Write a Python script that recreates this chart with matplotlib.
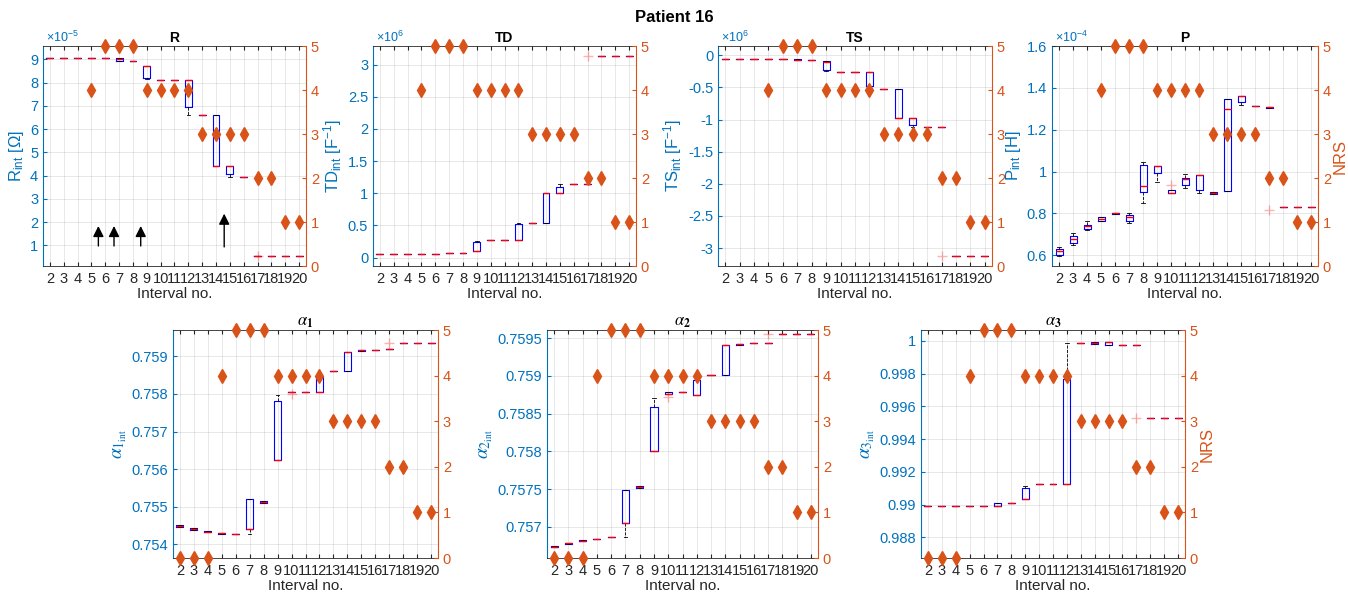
import matplotlib
matplotlib.use('Agg')
import matplotlib.pyplot as plt
from matplotlib.ticker import FuncFormatter

plt.rcParams['font.family'] = ['Liberation Sans', 'DejaVu Sans']
plt.rcParams['mathtext.fontset'] = 'custom'
plt.rcParams['mathtext.rm'] = 'Liberation Sans'
plt.rcParams['mathtext.it'] = 'Liberation Sans:italic'
plt.rcParams['mathtext.bf'] = 'Liberation Sans:bold'

# ---------------- data ----------------
intervals = list(range(2, 21))
nrs = [0, 0, 0, 4, 5, 5, 5, 4, 4, 4, 4, 3, 3, 3, 3, 2, 2, 1, 1]

# R (x1e-5 Ohm)
R_med = [9.07, 9.07, 9.07, 9.07, 9.07, 9.00, 8.93, 8.71, 8.10, 8.10, 8.10, 6.59, 4.41, 4.41, 3.94, 0.54, 0.54, 0.54, 0.54]
R_q1  = [9.07, 9.07, 9.07, 9.07, 9.07, 8.93, 8.93, 8.18, 8.10, 8.10, 6.95, 6.59, 4.41, 4.05, 3.94, 0.54, 0.54, 0.54, 0.54]
R_q3  = [9.07, 9.07, 9.07, 9.07, 9.07, 9.04, 8.93, 8.71, 8.10, 8.10, 8.10, 6.59, 6.59, 4.41, 3.94, 0.54, 0.54, 0.54, 0.54]
R_wlo = [9.07, 9.07, 9.07, 9.07, 9.07, 8.93, 8.93, 8.13, 8.10, 8.10, 6.60, 6.59, 4.41, 3.94, 3.94, 0.54, 0.54, 0.54, 0.54]
R_whi = R_q3
R_fliers = {17: [0.54]}

# TD (x1e6 F^-1)
TD_med = [0.062, 0.062, 0.062, 0.062, 0.062, 0.068, 0.073, 0.104, 0.276, 0.276, 0.276, 0.54, 1.00, 1.00, 1.14, 1.14, 3.14, 3.14, 3.14]
TD_q1  = [0.062, 0.062, 0.062, 0.062, 0.062, 0.066, 0.073, 0.104, 0.276, 0.276, 0.276, 0.54, 0.54, 1.00, 1.14, 1.14, 3.14, 3.14, 3.14]
TD_q3  = [0.062, 0.062, 0.062, 0.062, 0.062, 0.070, 0.073, 0.244, 0.276, 0.276, 0.53, 0.54, 1.00, 1.10, 1.14, 1.14, 3.14, 3.14, 3.14]
TD_wlo = TD_q1
TD_whi = [0.062, 0.062, 0.062, 0.062, 0.062, 0.070, 0.073, 0.26, 0.276, 0.276, 0.54, 0.54, 1.00, 1.14, 1.14, 1.14, 3.14, 3.14, 3.14]
TD_fliers = {17: [3.14]}

# TS (x1e6 F^-1)
TS_med = [-0.062, -0.062, -0.062, -0.062, -0.062, -0.065, -0.07, -0.10, -0.26, -0.26, -0.26, -0.53, -0.98, -0.98, -1.12, -1.12, -3.12, -3.12, -3.12]
TS_q1  = [-0.062, -0.062, -0.062, -0.062, -0.062, -0.068, -0.07, -0.234, -0.26, -0.26, -0.47, -0.53, -0.98, -1.08, -1.12, -1.12, -3.12, -3.12, -3.12]
TS_q3  = [-0.062, -0.062, -0.062, -0.062, -0.062, -0.063, -0.07, -0.094, -0.26, -0.26, -0.26, -0.53, -0.53, -0.98, -1.12, -1.12, -3.12, -3.12, -3.12]
TS_wlo = [-0.062, -0.062, -0.062, -0.062, -0.062, -0.068, -0.07, -0.25, -0.26, -0.26, -0.47, -0.53, -0.98, -1.12, -1.12, -1.12, -3.12, -3.12, -3.12]
TS_whi = TS_q3
TS_fliers = {17: [-3.12]}

# P (x1e-4 H)
P_med = [0.622, 0.680, 0.738, 0.773, 0.801, 0.781, 0.931, 1.025, 0.899, 0.963, 0.985, 0.899, 1.298, 1.362, 1.313, 1.307, 0.831, 0.831, 0.831]
P_q1  = [0.603, 0.661, 0.725, 0.765, 0.796, 0.765, 0.902, 0.995, 0.899, 0.937, 0.913, 0.894, 0.907, 1.332, 1.312, 1.305, 0.831, 0.831, 0.831]
P_q3  = [0.629, 0.693, 0.746, 0.781, 0.804, 0.793, 1.030, 1.025, 0.910, 0.971, 0.985, 0.903, 1.348, 1.362, 1.314, 1.309, 0.831, 0.831, 0.831]
P_wlo = [0.597, 0.650, 0.719, 0.765, 0.796, 0.754, 0.849, 0.950, 0.899, 0.921, 0.899, 0.894, 0.907, 1.316, 1.312, 1.305, 0.831, 0.831, 0.831]
P_whi = [0.642, 0.706, 0.765, 0.785, 0.804, 0.802, 1.046, 1.025, 0.910, 0.988, 0.985, 0.903, 1.348, 1.362, 1.314, 1.309, 0.831, 0.831, 0.831]
P_fliers = {10: [0.937], 17: [0.815]}

# alpha_1
A1_med = [0.754488, 0.754417, 0.754337, 0.754293, 0.754275, 0.754400, 0.755119, 0.756238, 0.758059, 0.758059, 0.758059, 0.758609, 0.759124, 0.759160, 0.759178, 0.759186, 0.759346, 0.759346, 0.759346]
A1_q1  = [0.754462, 0.754395, 0.754320, 0.754285, 0.754275, 0.754400, 0.755092, 0.756238, 0.758059, 0.758059, 0.758059, 0.758609, 0.758609, 0.759142, 0.759178, 0.759186, 0.759346, 0.759346, 0.759346]
A1_q3  = [0.754515, 0.754435, 0.754355, 0.754300, 0.754275, 0.755217, 0.755146, 0.757810, 0.758059, 0.758059, 0.758458, 0.758609, 0.759124, 0.759178, 0.759178, 0.759186, 0.759346, 0.759346, 0.759346]
A1_wlo = [0.754462, 0.754395, 0.754320, 0.754285, 0.754275, 0.754266, 0.755092, 0.756238, 0.758059, 0.758059, 0.758059, 0.758609, 0.758609, 0.759142, 0.759178, 0.759186, 0.759346, 0.759346, 0.759346]
A1_whi = [0.754515, 0.754435, 0.754355, 0.754300, 0.754275, 0.755217, 0.755146, 0.757970, 0.758059, 0.758059, 0.758538, 0.758609, 0.759124, 0.759178, 0.759178, 0.759186, 0.759346, 0.759346, 0.759346]
A1_fliers = {10: [0.757996], 17: [0.759364]}

# alpha_2
A2_med = [0.756738, 0.756782, 0.756817, 0.756839, 0.756860, 0.757048, 0.757523, 0.758008, 0.758767, 0.758784, 0.758750, 0.759011, 0.759413, 0.759422, 0.759439, 0.759439, 0.759552, 0.759552, 0.759552]
A2_q1  = [0.756728, 0.756775, 0.756812, 0.756839, 0.756860, 0.757048, 0.757510, 0.758008, 0.758758, 0.758784, 0.758750, 0.759011, 0.759011, 0.759413, 0.759439, 0.759439, 0.759552, 0.759552, 0.759552]
A2_q3  = [0.756748, 0.756790, 0.756822, 0.756839, 0.756860, 0.757484, 0.757537, 0.758584, 0.758784, 0.758784, 0.758942, 0.759011, 0.759413, 0.759430, 0.759439, 0.759439, 0.759552, 0.759552, 0.759552]
A2_wlo = [0.756728, 0.756775, 0.756812, 0.756839, 0.756860, 0.756860, 0.757510, 0.758008, 0.758758, 0.758784, 0.758750, 0.759011, 0.759011, 0.759413, 0.759439, 0.759439, 0.759552, 0.759552, 0.759552]
A2_whi = [0.756748, 0.756790, 0.756822, 0.756839, 0.756860, 0.757484, 0.757537, 0.758702, 0.758784, 0.758784, 0.758942, 0.759011, 0.759413, 0.759430, 0.759439, 0.759439, 0.759552, 0.759552, 0.759552]
A2_fliers = {10: [0.758715], 17: [0.759552]}

# alpha_3
A3_med = [0.989899, 0.989899, 0.989899, 0.989899, 0.989899, 0.989939, 0.990081, 0.990343, 0.991232, 0.991232, 0.991232, 0.999859, 0.999880, 0.999920, 0.999737, 0.999737, 0.995313, 0.995313, 0.995313]
A3_q1  = [0.989899, 0.989899, 0.989899, 0.989899, 0.989899, 0.989939, 0.990081, 0.990343, 0.991232, 0.991232, 0.991232, 0.999859, 0.999840, 0.999760, 0.999737, 0.999737, 0.995313, 0.995313, 0.995313]
A3_q3  = [0.989899, 0.989899, 0.989899, 0.989899, 0.989899, 0.990081, 0.990081, 0.991030, 0.991232, 0.991232, 0.997697, 0.999859, 0.999920, 0.999920, 0.999737, 0.999737, 0.995313, 0.995313, 0.995313]
A3_wlo = A3_q1
A3_whi = [0.989899, 0.989899, 0.989899, 0.989899, 0.989899, 0.990081, 0.990081, 0.991152, 0.991232, 0.991232, 0.999859, 0.999859, 0.999920, 0.999920, 0.999737, 0.999737, 0.995313, 0.995313, 0.995313]
A3_fliers = {17: [0.995313]}

# arrows in R panel (interval position, base, tip) in x1e-5 units
arrow_x = [5.5, 6.63, 8.56, 14.59]
arrow_base = [0.97, 0.97, 0.97, 0.93]
arrow_tip = [1.83, 1.83, 1.83, 2.36]

# ---------------- style ----------------
BLUE = '#0072BD'
ORANGE = '#D95319'
DARK = '#262626'
W, H = 1348, 593

fig = plt.figure(figsize=(W / 100, H / 100), dpi=100)
fig.text(0.5, 1 - 17 / H, 'Patient 16', ha='center', va='center', fontsize=12, fontweight='bold')


def gfmt(v, pos):
    s = '%.6g' % v
    if s == '-0':
        s = '0'
    return s


def panel(px, title, med, q1, q3, wlo, whi, fliers, ylim, yticks, ylabel, offset,
          show_zero, nrs_label, math_title=False):
    l, r, t, b = px
    ax = fig.add_axes([l / W, 1 - b / H, (r - l) / W, (b - t) / H])
    stats = []
    for i, x in enumerate(intervals):
        stats.append(dict(med=med[i], q1=q1[i], q3=q3[i], whislo=wlo[i], whishi=whi[i],
                          fliers=fliers.get(x, [])))
    ax.bxp(stats, positions=intervals, widths=0.5, capwidths=0.25, showfliers=True,
           manage_ticks=False,
           boxprops=dict(color='#0000FF', lw=0.8),
           medianprops=dict(color='#FF0000', lw=1.0, zorder=3),
           whiskerprops=dict(color='black', ls='--', lw=0.6),
           capprops=dict(color='black', lw=0.6),
           flierprops=dict(marker='+', markeredgecolor='#FF0000', markersize=7, alpha=0.3))
    ax.set_xlim(1.5, 20.5)
    ax.set_ylim(*ylim)
    ax.set_xticks(intervals)
    ax.set_xticklabels([str(i) for i in intervals])
    ax.set_yticks(yticks)
    ax.yaxis.set_major_formatter(FuncFormatter(gfmt))
    ax.grid(True, color=DARK, alpha=0.12, lw=0.6)
    ax.set_axisbelow(True)
    ax.tick_params(axis='x', direction='in', top=True, length=3, colors=DARK, labelsize=10.5, pad=4)
    ax.tick_params(axis='y', direction='in', length=3, colors=BLUE, labelsize=10.5)
    for s in ['top', 'bottom']:
        ax.spines[s].set_color(DARK)
        ax.spines[s].set_linewidth(0.6)
    ax.spines['left'].set_color(BLUE)
    ax.spines['right'].set_visible(False)
    ax.set_xlabel('Interval no.', fontsize=11, color=DARK, labelpad=1)
    if math_title:
        ax.set_ylabel(ylabel, fontsize=14, color=BLUE, math_fontfamily='stix', labelpad=2)
        ax.set_title(title, fontsize=12, color='black', pad=3, math_fontfamily='stix')
    else:
        ax.set_ylabel(ylabel, fontsize=12, color=BLUE, labelpad=3)
        ax.set_title(title, fontsize=10, fontweight='bold', color='black', pad=3)
    if offset:
        ax.text(0.01, 1.005, offset, transform=ax.transAxes, ha='left', va='bottom',
                color=BLUE, fontsize=9)

    ax2 = ax.twinx()
    xs = [x for x, n in zip(intervals, nrs) if show_zero or n > 0]
    ys = [n for n in nrs if show_zero or n > 0]
    ax2.plot(xs, ys, 'd', color=ORANGE, markersize=7.5, clip_on=False, zorder=5)
    ax2.set_ylim(0, 5)
    ax2.set_yticks([0, 1, 2, 3, 4, 5])
    ax2.tick_params(axis='y', direction='in', length=3, colors=ORANGE, labelsize=10.5)
    ax2.spines['right'].set_color(ORANGE)
    for s in ['left', 'top', 'bottom']:
        ax2.spines[s].set_visible(False)
    if nrs_label:
        ax2.set_ylabel('NRS', fontsize=12, color=ORANGE, labelpad=1)
    return ax, ax2


axR, _ = panel((43, 306, 46, 266), 'R', R_med, R_q1, R_q3, R_wlo, R_whi, R_fliers,
               (0.11, 9.57), list(range(1, 10)), r'R$_{\rm int}$ [$\Omega$]', r'$\times$10$^{-5}$',
               False, False)
for x, b0, t0 in zip(arrow_x, arrow_base, arrow_tip):
    axR.annotate('', xy=(x, t0), xytext=(x, b0),
                 arrowprops=dict(arrowstyle='-|>', color='black', lw=1.0, mutation_scale=16,
                                 shrinkA=0, shrinkB=0))

panel((373, 636, 46, 266), 'TD', TD_med, TD_q1, TD_q3, TD_wlo, TD_whi, TD_fliers,
      (-0.13, 3.29), [0, 0.5, 1, 1.5, 2, 2.5, 3], r'TD$_{\rm int}$ [F$^{-1}$]', r'$\times$10$^{6}$',
      False, False)
panel((718, 992, 46, 266), 'TS', TS_med, TS_q1, TS_q3, TS_wlo, TS_whi, TS_fliers,
      (-3.28, 0.146), [-3, -2.5, -2, -1.5, -1, -0.5, 0], r'TS$_{\rm int}$ [F$^{-1}$]', r'$\times$10$^{6}$',
      False, False)
panel((1052, 1318, 46, 266), 'P', P_med, P_q1, P_q3, P_wlo, P_whi, P_fliers,
      (0.549, 1.6), [0.6, 0.8, 1.0, 1.2, 1.4, 1.6], r'P$_{\rm int}$ [H]', r'$\times$10$^{-4}$',
      False, True)

panel((173, 438, 330, 558), r'$\alpha_\mathbf{1}$', A1_med, A1_q1, A1_q3, A1_wlo, A1_whi, A1_fliers,
      (0.75364, 0.75970), [0.754, 0.755, 0.756, 0.757, 0.758, 0.759], r'$\alpha_{1_{\rm int}}$', None,
      True, False, math_title=True)
panel((547, 818, 330, 558), r'$\alpha_\mathbf{2}$', A2_med, A2_q1, A2_q3, A2_wlo, A2_whi, A2_fliers,
      (0.756586, 0.759609), [0.757, 0.7575, 0.758, 0.7585, 0.759, 0.7595], r'$\alpha_{2_{\rm int}}$', None,
      True, False, math_title=True)
panel((921, 1185, 330, 558), r'$\alpha_\mathbf{3}$', A3_med, A3_q1, A3_q3, A3_wlo, A3_whi, A3_fliers,
      (0.98673, 1.00067), [0.988, 0.990, 0.992, 0.994, 0.996, 0.998, 1.0], r'$\alpha_{3_{\rm int}}$', None,
      True, True, math_title=True)

fig.savefig('out.png', dpi=100)
